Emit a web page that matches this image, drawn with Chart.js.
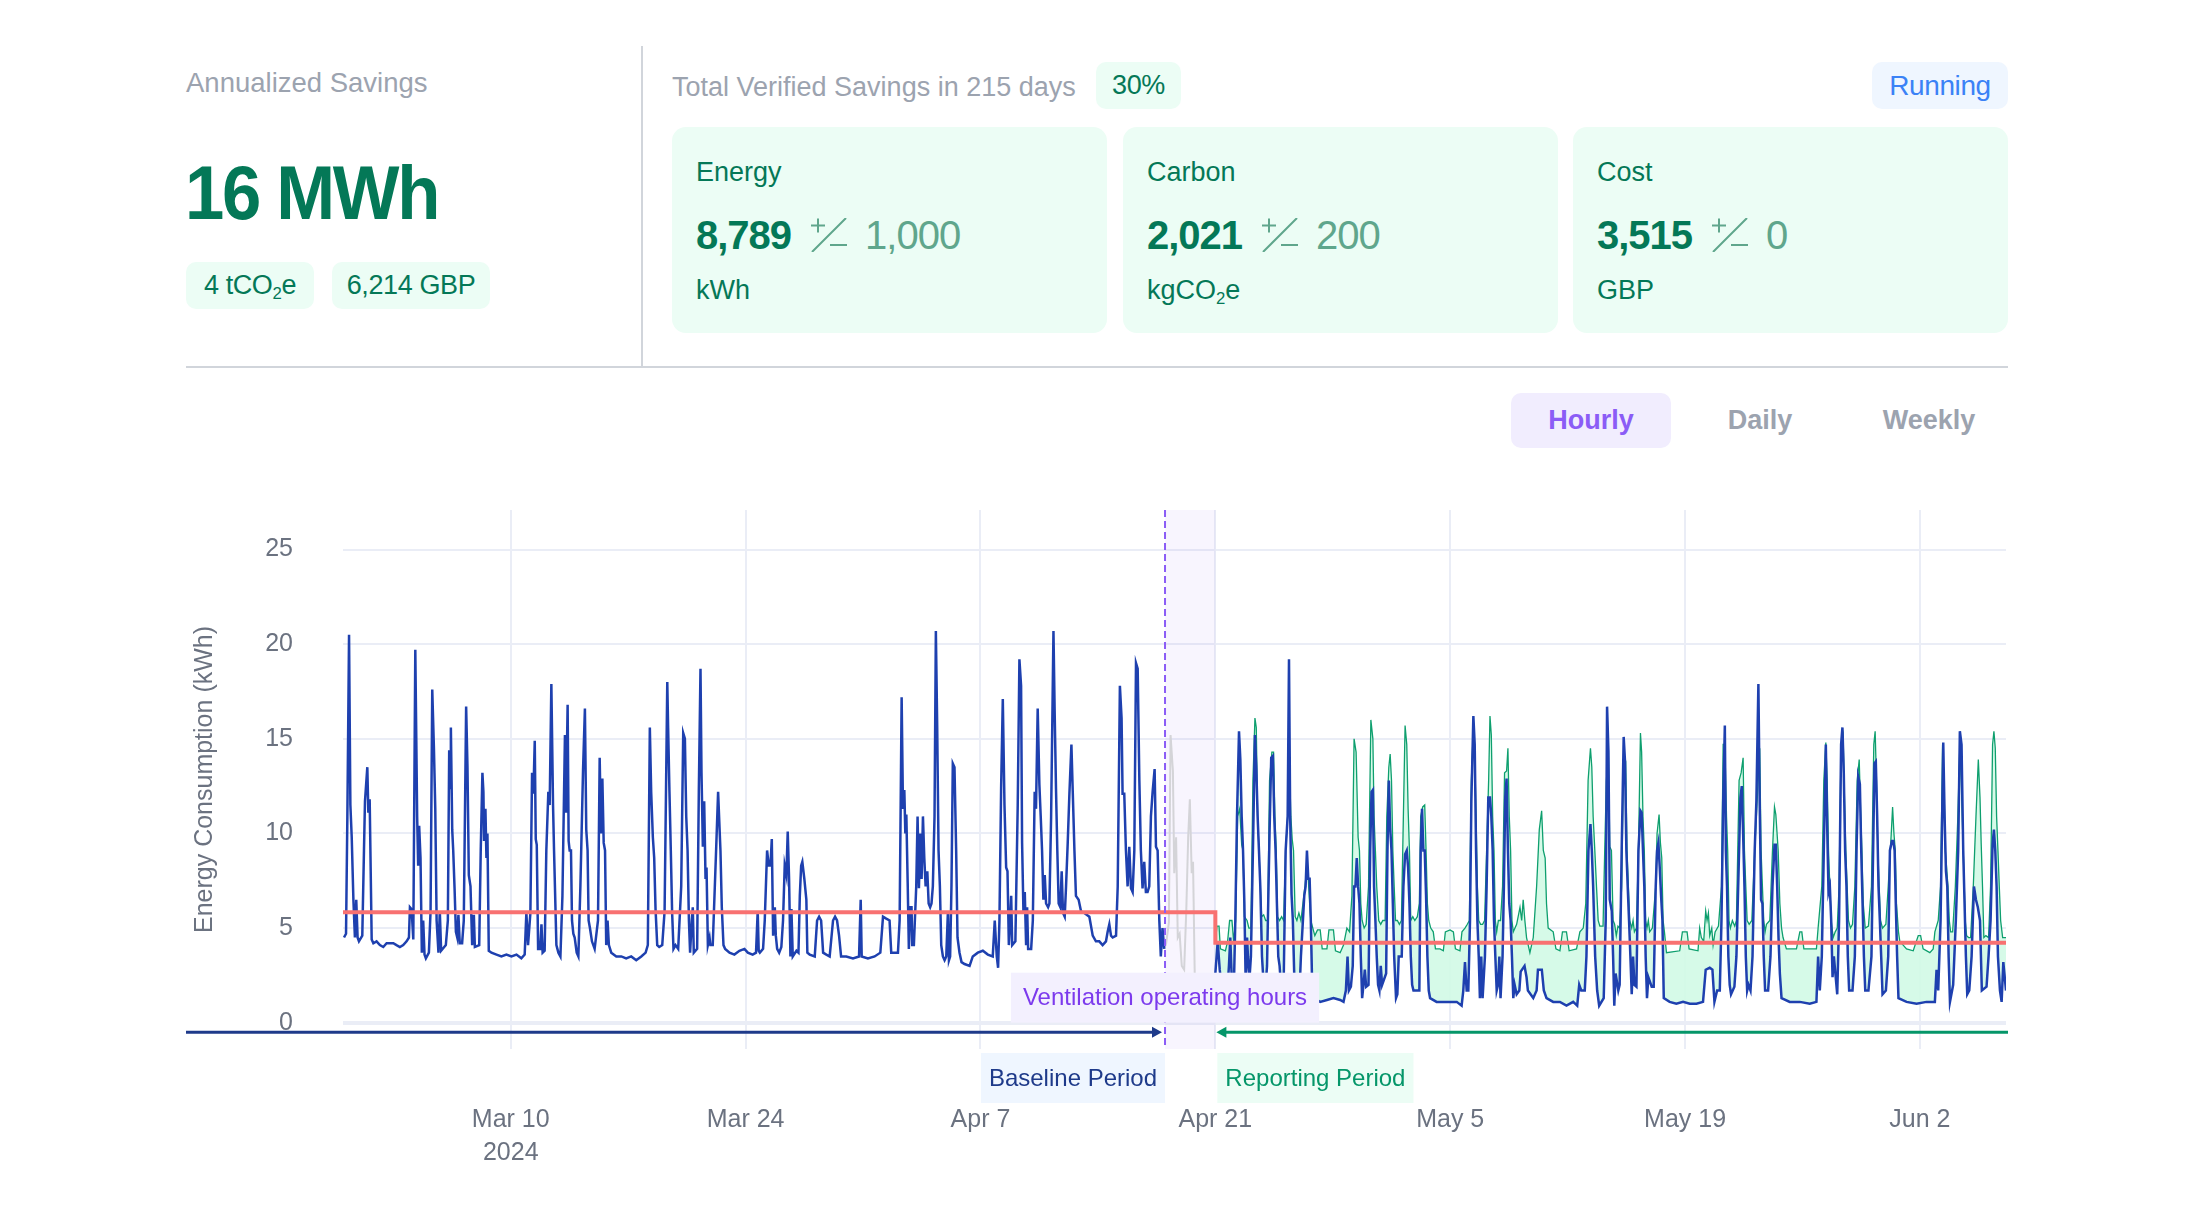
<!DOCTYPE html>
<html>
<head>
<meta charset="utf-8">
<title>Savings overview</title>
<script src="https://cdn.jsdelivr.net/npm/chart.js@4.4.1/dist/chart.umd.min.js"></script>
<style>
  html, body { margin: 0; padding: 0; background: #fff; }
  body { width: 2194px; height: 1220px; position: relative; overflow: hidden;
         font-family: 'Liberation Sans', Arial, sans-serif; }
  .abs { position: absolute; white-space: nowrap; }
  .muted { color: #9ca3af; font-size: 27px; line-height: 32px; }
  .green { color: #047857; }
  .pill { position: absolute; display: flex; align-items: center; justify-content: center;
          border-radius: 10px; font-size: 27px; letter-spacing: -0.4px; white-space: nowrap; }
  .mint { background: #ecfdf5; color: #047857; }
  sub { font-size: 0.62em; vertical-align: -0.32em; line-height: 0; }
  .card { position: absolute; top: 127px; width: 435px; height: 206px; border-radius: 14px; background: #ecfdf5; }
  .card .lbl { position: absolute; left: 24px; top: 29px; font-size: 27px; line-height: 32px; color: #047857; }
  .card .row { position: absolute; left: 24px; top: 84px; height: 48px; display: flex; align-items: center; }
  .card .row b { font-size: 40px; letter-spacing: -1px; color: #047857; }
  .card .row .err { font-size: 40px; letter-spacing: -1px; color: #5fa68c; }
  .card .row svg { margin: 0 18px 0 20px; }
  .card .unit { position: absolute; left: 24px; top: 147px; font-size: 27px; line-height: 32px; color: #047857; }
  .tab { position: absolute; top: 404px; width: 140px; text-align: center; font-size: 27px; line-height: 32px;
         font-weight: 700; color: #9ca3af; }
  #chartBox { position: absolute; left: 186px; top: 490px; }
</style>
</head>
<body>

<div class="abs muted" style="left:186px; top:67px; font-size:27.5px;">Annualized Savings</div>
<div class="abs green" style="left:185px; top:150px; font-size:76px; line-height:86px; font-weight:700; letter-spacing:-2.5px; transform:scaleX(0.93); transform-origin:left center;">16 MWh</div>
<div class="pill mint" style="left:186px; top:262px; width:128px; height:47px;"><span>4 tCO<sub>2</sub>e</span></div>
<div class="pill mint" style="left:332px; top:262px; width:158px; height:47px;"><span>6,214 GBP</span></div>

<div class="abs" style="left:641px; top:46px; width:2px; height:321px; background:#d1d5db;"></div>
<div class="abs" style="left:186px; top:366px; width:1822px; height:2px; background:#d1d5db;"></div>

<div class="abs muted" style="left:672px; top:71px;">Total Verified Savings in 215 days</div>
<div class="pill mint" style="left:1096px; top:62px; width:85px; height:47px;">30%</div>
<div class="pill" style="left:1872px; top:62px; width:136px; height:47px; background:#eff6ff; color:#3b82f6; font-size:28px;">Running</div>

<div class="card" style="left:672px;">
  <div class="lbl">Energy</div>
  <div class="row"><b>8,789</b><svg width="36" height="34" viewBox="0 0 36 34"><path d="M0 7.5h14M7 0.5v14M1 34L35 0M19 27h17" stroke="#5fa68c" stroke-width="2" fill="none"/></svg><span class="err">1,000</span></div>
  <div class="unit">kWh</div>
</div>
<div class="card" style="left:1123px;">
  <div class="lbl">Carbon</div>
  <div class="row"><b>2,021</b><svg width="36" height="34" viewBox="0 0 36 34"><path d="M0 7.5h14M7 0.5v14M1 34L35 0M19 27h17" stroke="#5fa68c" stroke-width="2" fill="none"/></svg><span class="err">200</span></div>
  <div class="unit">kgCO<sub>2</sub>e</div>
</div>
<div class="card" style="left:1573px;">
  <div class="lbl">Cost</div>
  <div class="row"><b>3,515</b><svg width="36" height="34" viewBox="0 0 36 34"><path d="M0 7.5h14M7 0.5v14M1 34L35 0M19 27h17" stroke="#5fa68c" stroke-width="2" fill="none"/></svg><span class="err">0</span></div>
  <div class="unit">GBP</div>
</div>

<div class="abs" style="left:1511px; top:393px; width:160px; height:55px; border-radius:10px; background:#f1edfe;"></div>
<div class="tab" style="left:1521px; color:#8b5cf6;">Hourly</div>
<div class="tab" style="left:1690px;">Daily</div>
<div class="tab" style="left:1859px;">Weekly</div>

<div id="chartBox"><canvas id="savingsChart" width="1822" height="700"></canvas></div>

<script>
// days counted from 29 Feb 2024 00:00, values in kWh
const xTickDays = [10, 24, 38, 52, 66, 80, 94];
const xTickLabels = [['Mar 10', '2024'], 'Mar 24', 'Apr 7', 'Apr 21', 'May 5', 'May 19', 'Jun 2'];
const yTickValues = [0, 5, 10, 15, 20, 25];
const interventionDay = 49; // Apr 18
const reportingDay = 52;    // Apr 21
const lastDay = 99.13;

const baselineMetered = [
  [0.06,4.5],[0.18,4.7],[0.26,10.9],[0.36,20.5],[0.44,11.5],[0.52,9.8],[0.62,6.5],[0.71,4.5],[0.79,6.5],[0.87,4.5],[0.95,4.3],[1.15,4.6],[1.25,9.1],[1.31,11.7],[1.45,13.5],[1.51,11.1],[1.59,11.8],[1.71,4.4],
  [1.81,4.2],[2.0,4.3],[2.2,4.1],[2.4,4.0],[2.6,4.2],[2.8,4.2],[3.0,4.2],[3.19,4.1],[3.39,4.0],[3.59,4.1],[3.79,4.3],[3.93,4.5],[3.99,6.1],[4.09,6.0],[4.19,4.4],
  [4.31,19.7],[4.42,10.9],[4.48,8.3],[4.54,10.4],[4.62,8.7],[4.70,3.7],[4.78,5.4],[4.86,3.6],[4.94,3.4],[5.12,3.7],[5.22,5.9],[5.32,17.6],[5.42,14.5],[5.50,11.3],[5.58,5.4],[5.69,3.7],[5.77,5.9],[5.85,3.8],
  [6.13,4.1],[6.25,5.4],[6.33,14.4],[6.39,12.4],[6.43,15.6],[6.51,10.2],[6.57,9.1],[6.65,7.1],[6.73,4.8],[6.81,4.5],[6.88,5.7],[6.96,4.2],[7.10,4.2],[7.20,5.4],[7.34,16.7],[7.42,13.5],[7.50,7.8],[7.60,7.2],[7.70,4.1],[7.80,5.7],[7.86,4.0],
  [8.12,4.1],[8.21,9.1],[8.31,13.2],[8.37,12.2],[8.41,9.6],[8.49,11.3],[8.55,8.7],[8.61,10.0],[8.69,3.8],
  [8.85,3.7],[9.15,3.6],[9.44,3.5],[9.74,3.6],[10.04,3.5],[10.34,3.6],[10.63,3.4],[10.83,3.6],
  [10.93,5.8],[11.03,4.1],[11.17,5.8],[11.27,13.2],[11.35,12.1],[11.43,14.9],[11.49,9.7],[11.55,9.4],[11.63,3.9],[11.75,3.9],[11.83,5.2],[11.90,3.7],[12.02,3.8],
  [12.12,9.1],[12.24,12.2],[12.32,11.5],[12.42,17.9],[12.52,11.5],[12.58,9.1],[12.72,4.1],[12.84,3.7],[12.96,3.5],[13.08,6.7],[13.23,15.2],[13.29,11.1],[13.39,16.8],[13.45,9.6],[13.51,9.1],[13.59,9.1],[13.65,5.4],[13.73,4.7],[13.81,4.5],[13.93,3.7],
  [14.03,3.5],[14.15,7.2],[14.31,13.4],[14.42,16.6],[14.50,10.2],[14.58,9.1],[14.64,5.4],[14.72,5.0],[14.84,4.3],[15.0,3.9],[15.20,5.4],[15.30,14.0],[15.38,10.0],[15.46,12.9],[15.54,9.5],[15.62,9.1],[15.69,4.1],[15.77,5.4],[15.85,4.1],
  [15.99,3.7],[16.29,3.5],[16.59,3.5],[16.88,3.4],[17.18,3.5],[17.48,3.3],[17.78,3.5],[18.04,3.7],
  [18.17,4.1],[18.29,15.6],[18.37,12.2],[18.47,9.8],[18.55,8.7],[18.63,6.0],[18.73,4.1],[18.85,4.0],[19.03,4.1],[19.17,5.9],[19.33,18.0],[19.38,15.6],[19.46,12.2],[19.54,9.1],[19.62,5.8],[19.70,3.9],[19.82,4.1],[19.98,3.9],
  [20.16,7.2],[20.28,15.3],[20.38,15.0],[20.46,10.9],[20.54,9.1],[20.62,5.4],[20.69,3.7],[20.79,5.4],[20.85,6.1],[20.91,3.7],[21.11,3.9],[21.21,12.2],[21.31,18.7],[21.37,13.2],[21.45,9.3],[21.53,11.7],[21.61,7.6],[21.67,8.2],[21.75,4.1],[21.85,4.5],[21.90,4.1],
  [22.04,4.1],[22.24,9.1],[22.36,12.2],[22.44,10.4],[22.50,9.1],[22.58,6.1],[22.68,4.1],[22.78,3.9],
  [23.04,3.7],[23.33,3.6],[23.63,3.8],[23.93,3.9],[24.13,3.7],[24.42,3.6],[24.62,3.7],[24.72,5.9],[24.78,3.8],
  [24.85,3.7],[25.04,3.9],[25.14,5.4],[25.28,9.1],[25.38,8.3],[25.48,8.3],[25.56,9.7],[25.64,4.6],[25.74,6.1],[25.80,4.6],[25.88,3.9],[26.0,3.7],[26.13,4.0],
  [26.23,5.4],[26.33,8.3],[26.43,7.8],[26.51,10.1],[26.59,7.6],[26.67,3.5],[26.73,6.0],[26.81,3.5],[27.03,3.8],[27.15,3.7],[27.23,6.7],[27.31,8.3],[27.38,8.5],[27.50,7.6],[27.62,6.5],[27.68,3.7],[27.82,3.6],
  [28.12,3.5],[28.26,5.4],[28.38,5.6],[28.50,5.4],[28.62,3.7],[28.81,3.6],[29.01,3.5],[29.21,5.4],[29.33,5.6],[29.45,5.4],[29.57,4.6],[29.69,3.5],[30.0,3.5],[30.4,3.4],[30.76,3.5],[30.86,6.5],[30.92,3.5],[31.29,3.4],[31.69,3.5],
  [32.03,3.7],[32.19,5.6],[32.38,5.5],[32.58,5.4],[32.68,3.7],[33.08,3.7],
  [33.18,5.4],[33.30,17.2],[33.38,11.3],[33.46,12.3],[33.52,10.0],[33.58,11.0],[33.66,7.4],[33.73,3.9],[33.81,6.1],[33.89,6.1],[33.93,4.1],[34.03,4.1],
  [34.17,7.2],[34.25,10.9],[34.33,7.1],[34.41,10.0],[34.49,7.6],[34.57,10.9],[34.65,8.7],[34.73,7.2],[34.83,8.0],[34.91,6.3],[35.00,6.1],[35.08,6.3],[35.16,7.2],[35.26,10.9],[35.34,20.7],[35.42,15.6],[35.50,9.1],[35.58,7.2],[35.66,4.1],[35.76,3.5],[35.86,3.3],[35.96,3.5],
  [36.06,5.9],[36.12,3.3],[36.19,3.5],[36.27,7.2],[36.35,13.7],[36.45,13.5],[36.55,9.1],[36.63,4.5],[36.75,3.7],[36.87,3.2],[37.05,3.1],[37.35,3.0],[37.54,3.5],[37.84,3.7],[38.14,3.8],[38.44,3.6],[38.73,3.5],[38.85,5.4],[38.97,3.5],
  [39.05,2.9],[39.13,5.4],[39.23,12.4],[39.33,17.1],[39.43,11.5],[39.53,8.2],[39.61,8.0],[39.69,4.1],[39.77,5.4],[39.83,6.7],[39.89,4.1],[40.08,4.3],
  [40.22,11.5],[40.32,19.2],[40.42,17.8],[40.48,9.5],[40.56,5.9],[40.64,6.9],[40.72,4.1],[40.78,6.1],[40.84,3.9],[41.02,3.9],
  [41.12,5.4],[41.23,12.2],[41.31,11.3],[41.41,16.6],[41.51,12.6],[41.59,10.9],[41.67,9.1],[41.75,6.5],[41.83,7.8],[41.91,6.3],[42.03,6.1],[42.11,6.3],
  [42.21,10.9],[42.35,20.7],[42.42,16.5],[42.50,12.4],[42.58,9.1],[42.66,6.3],[42.76,6.1],[42.84,8.0],[42.92,5.8],[43.02,5.6],
  [43.10,7.2],[43.20,9.5],[43.30,12.1],[43.42,14.7],[43.50,12.2],[43.60,9.1],[43.69,6.7],[43.85,6.5],[43.99,5.9],[44.19,5.8],[44.49,5.6],[44.69,4.6],[44.88,4.3],[45.08,4.3],[45.28,4.1],[45.48,4.3],[45.58,4.8],[45.68,5.2],[45.78,4.6],[45.88,4.5],[46.08,4.6],
  [46.18,7.2],[46.31,17.8],[46.41,16.1],[46.47,12.1],[46.57,12.1],[46.67,9.1],[46.77,7.2],[46.87,9.3],[46.97,7.1],[47.07,6.9],
  [47.17,9.1],[47.27,19.0],[47.37,18.7],[47.47,12.8],[47.56,9.1],[47.66,7.1],[47.76,8.5],[47.86,6.9],[47.96,6.9],
  [48.06,7.2],[48.16,10.9],[48.26,12.2],[48.38,13.4],[48.46,9.3],[48.56,9.1],[48.66,5.4],[48.75,3.5],[48.85,5.0],[48.95,3.9]
];

const transitionMetered = [
  [48.95,3.9],[49.07,4.2],[49.23,5.3],[49.33,15.2],[49.47,13.3],[49.55,7.9],[49.66,9.8],[49.76,4.5],[49.87,4.7],[50.0,3.0],[50.14,2.8],
  [50.27,6.0],[50.38,9.8],[50.48,11.8],[50.59,7.9],[50.67,8.5],[50.77,2.6],[51.0,2.4],[51.4,2.5],[51.8,2.4],[52.0,2.6]
];

const reportingMetered = [
  [52.0,2.6],[52.14,4.3],[52.26,2.8],[52.40,1.7],[52.69,1.3],[52.81,3.0],[52.89,4.5],[52.99,2.0],[53.09,1.3],
  [53.19,5.4],[53.29,10.9],[53.41,15.4],[53.49,13.9],[53.57,10.9],[53.65,9.1],[53.73,6.3],[53.81,2.0],[53.89,4.5],[53.96,3.2],[54.04,2.4],[54.12,3.5],
  [54.24,9.1],[54.36,15.2],[54.44,13.5],[54.52,10.9],[54.60,9.1],[54.68,7.2],[54.78,3.5],[54.88,2.0],[54.98,1.7],[55.08,3.0],
  [55.23,10.0],[55.33,14.0],[55.43,14.1],[55.51,10.9],[55.59,9.1],[55.67,6.3],[55.75,3.5],[55.83,3.0],[55.93,1.7],[56.07,2.0],
  [56.19,9.1],[56.31,10.9],[56.39,19.2],[56.46,10.9],[56.54,6.8],[56.62,5.4],[56.70,2.6],[56.78,1.7],[56.86,1.3],[57.02,1.7],[57.10,3.5],
  [57.22,5.4],[57.30,6.7],[57.38,7.2],[57.46,9.1],[57.54,7.6],[57.62,7.6],[57.69,5.4],[57.77,2.0],[57.85,1.3],
  [58.25,1.1],[58.65,1.2],[59.04,1.3],[59.44,1.2],[59.64,1.1],[59.78,1.7],[59.88,3.5],[59.96,1.7],[60.08,1.9],[60.19,3.0],
  [60.27,7.2],[60.35,7.2],[60.43,8.7],[60.51,7.2],[60.59,6.3],[60.67,3.5],[60.75,1.3],[60.83,2.0],[60.91,2.8],[60.99,1.9],[61.13,2.0],
  [61.23,9.1],[61.31,12.2],[61.39,12.3],[61.46,7.2],[61.54,5.4],[61.62,3.5],[61.70,2.0],[61.78,1.7],[61.86,3.0],[61.94,2.0],[62.18,2.6],
  [62.26,9.1],[62.34,12.8],[62.42,10.3],[62.50,9.1],[62.58,6.3],[62.66,3.5],[62.77,1.3],[62.85,1.5],[62.93,3.5],[63.11,3.5],
  [63.21,7.2],[63.31,8.9],[63.41,9.1],[63.49,8.2],[63.57,6.3],[63.65,3.5],[63.73,2.0],[63.81,1.7],[64.16,1.7],
  [64.24,9.1],[64.32,11.3],[64.40,9.1],[64.48,9.1],[64.56,6.7],[64.64,3.5],[64.72,1.7],[64.80,1.3],
  [65.19,1.1],[65.59,1.1],[65.99,1.1],[66.39,1.1],[66.68,0.9],[66.78,1.7],[66.88,3.2],[66.98,1.7],[67.08,1.7],
  [67.18,5.4],[67.26,11.7],[67.38,16.2],[67.46,14.7],[67.54,9.1],[67.62,5.4],[67.70,3.5],[67.77,1.3],[67.85,3.5],[67.93,1.3],[68.07,3.5],
  [68.17,7.2],[68.27,11.9],[68.37,11.9],[68.45,10.9],[68.53,9.1],[68.61,5.4],[68.69,3.5],[68.77,1.7],[68.85,2.0],[68.93,3.5],[69.00,1.3],[69.12,3.5],
  [69.20,7.2],[69.28,11.9],[69.36,12.9],[69.44,9.1],[69.52,6.3],[69.60,5.4],[69.68,3.5],[69.76,1.3],[69.84,2.0],[69.96,1.5],
  [70.12,1.7],[70.20,2.7],[70.43,3.0],[70.55,2.4],[70.63,1.7],[70.95,1.3],[71.15,1.7],[71.23,2.8],[71.46,2.8],[71.58,1.7],[71.74,1.3],
  [72.14,1.1],[72.54,1.1],[72.93,0.9],[73.33,1.1],[73.57,0.9],[73.69,2.0],[73.81,1.7],[74.02,1.7],
  [74.12,3.5],[74.24,9.1],[74.36,10.5],[74.44,9.1],[74.52,7.2],[74.64,3.5],[74.76,1.7],[74.88,0.9],
  [75.15,1.3],[75.27,5.4],[75.35,16.7],[75.43,14.4],[75.51,6.5],[75.63,5.9],[75.71,3.5],[75.78,0.9],[75.86,2.6],[76.02,1.7],[76.10,2.0],
  [76.22,9.1],[76.34,15.1],[76.42,13.8],[76.50,9.1],[76.58,7.2],[76.66,5.4],[76.74,3.5],[76.82,1.5],[76.90,3.5],[76.98,2.0],[77.10,1.9],
  [77.22,9.1],[77.34,11.2],[77.41,11.1],[77.49,9.1],[77.57,7.2],[77.65,3.5],[77.73,1.3],[77.81,2.4],[78.01,1.9],[78.13,1.9],
  [78.25,7.2],[78.33,9.1],[78.41,9.5],[78.49,8.2],[78.57,6.7],[78.65,5.4],[78.73,1.3],
  [79.08,1.1],[79.48,1.0],[79.88,1.1],[80.28,1.0],[80.68,1.0],[81.07,1.1],[81.23,2.8],[81.47,2.9],[81.63,2.8],[81.75,1.1],[81.91,1.7],[82.07,1.7],
  [82.17,5.4],[82.27,11.6],[82.37,15.7],[82.43,9.1],[82.50,7.2],[82.58,3.5],[82.66,2.0],[82.74,1.5],[82.94,1.9],
  [83.06,3.5],[83.22,9.1],[83.30,11.9],[83.38,12.5],[83.46,10.0],[83.54,7.2],[83.62,3.5],[83.70,1.7],[83.78,2.0],[83.90,1.7],
  [84.02,3.5],[84.15,9.1],[84.25,11.7],[84.37,17.9],[84.45,11.5],[84.53,6.5],[84.61,6.3],[84.69,3.5],[84.77,1.7],[84.95,1.7],
  [85.09,3.5],[85.21,7.2],[85.33,9.4],[85.41,9.4],[85.49,7.2],[85.57,4.5],[85.65,2.6],[85.75,1.3],
  [86.24,1.1],[86.84,1.1],[87.43,1.0],[87.83,1.1],[87.93,3.5],[88.03,1.7],
  [88.15,3.5],[88.27,9.1],[88.39,14.7],[88.47,10.4],[88.55,6.9],[88.63,7.2],[88.71,5.4],[88.79,2.4],[88.87,3.5],[89.07,1.5],
  [89.18,5.4],[89.30,14.7],[89.38,15.6],[89.46,13.2],[89.54,9.1],[89.62,7.2],[89.70,3.5],[89.78,1.7],[89.98,1.7],
  [90.12,3.5],[90.22,9.1],[90.32,13.0],[90.42,12.6],[90.50,9.1],[90.58,6.3],[90.66,3.5],[90.74,1.7],[90.93,1.7],
  [91.11,3.5],[91.21,9.1],[91.29,13.7],[91.37,13.8],[91.45,10.9],[91.53,7.2],[91.61,5.4],[91.69,3.5],[91.77,1.5],[91.97,1.7],
  [92.11,3.5],[92.21,9.1],[92.33,9.6],[92.41,9.6],[92.49,9.1],[92.56,6.3],[92.64,3.5],[92.72,1.3],
  [93.2,1.1],[93.8,1.0],[94.39,1.1],[94.89,1.1],[94.99,2.8],[95.09,1.7],
  [95.23,5.4],[95.39,14.8],[95.47,10.9],[95.55,8.0],[95.63,7.2],[95.71,3.5],[95.79,1.1],[95.98,2.0],
  [96.14,5.4],[96.28,9.1],[96.38,15.4],[96.48,14.7],[96.58,9.1],[96.66,6.3],[96.74,3.5],[96.82,1.5],[96.94,1.7],
  [97.08,3.5],[97.22,7.2],[97.34,6.5],[97.45,6.1],[97.58,5.4],[97.69,1.7],[97.97,1.9],
  [98.09,3.5],[98.21,5.4],[98.33,9.4],[98.41,10.2],[98.49,9.1],[98.57,7.2],[98.65,3.5],[98.77,1.7],[98.87,1.1],[98.97,3.2],[99.13,1.7]
];

const adjustedBaseline = [
  [52.0,4.3],[52.10,5.1],[52.22,5.1],[52.30,3.9],[52.60,3.8],[52.73,4.3],[52.85,5.4],[52.99,5.4],[53.09,4.3],
  [53.21,5.4],[53.33,10.9],[53.45,11.3],[53.57,9.4],[53.65,9.1],[53.73,5.6],[53.89,5.4],[54.00,5.0],[54.12,5.0],
  [54.24,12.8],[54.36,16.1],[54.44,15.6],[54.52,10.9],[54.60,9.1],[54.68,7.2],[54.76,5.6],[54.88,5.7],[55.00,5.4],[55.12,5.4],
  [55.23,12.8],[55.37,14.3],[55.47,14.3],[55.55,10.9],[55.63,9.1],[55.71,5.6],[55.83,5.4],[55.95,5.6],[56.07,5.4],
  [56.19,9.1],[56.31,10.9],[56.39,14.5],[56.50,10.9],[56.58,9.7],[56.66,9.1],[56.76,5.6],[56.86,5.4],[56.98,5.8],[57.10,5.4],
  [57.22,6.3],[57.34,7.2],[57.46,8.2],[57.54,7.6],[57.62,6.3],[57.69,5.4],[57.81,5.0],[57.93,4.6],
  [58.09,4.9],[58.25,4.9],[58.37,3.9],[58.65,3.9],[58.77,4.9],[59.04,4.9],[59.16,3.8],[59.44,3.7],[59.64,4.1],[59.84,5.0],[60.0,4.8],
  [60.14,6.7],[60.27,15.0],[60.39,14.3],[60.51,9.8],[60.59,9.1],[60.67,6.3],[60.75,5.4],[60.87,5.0],[60.99,5.2],
  [61.13,7.2],[61.27,16.0],[61.39,15.0],[61.46,10.9],[61.54,9.1],[61.62,7.2],[61.74,5.4],[61.86,5.2],[61.98,5.4],[62.12,5.4],
  [62.22,10.9],[62.34,13.5],[62.42,14.2],[62.50,12.8],[62.58,9.1],[62.66,7.2],[62.74,5.4],[62.85,5.4],[62.97,5.2],[63.09,5.4],
  [63.17,9.1],[63.31,15.7],[63.41,14.7],[63.49,11.3],[63.57,9.1],[63.65,5.4],[63.77,5.6],[63.89,5.4],[64.04,5.6],
  [64.16,6.3],[64.24,10.9],[64.36,11.4],[64.48,11.5],[64.56,9.1],[64.64,6.3],[64.72,5.4],[64.84,5.0],[64.99,4.8],
  [65.12,3.9],[65.39,3.9],[65.59,3.8],[65.71,4.8],[65.99,4.9],[66.19,4.8],[66.31,3.9],[66.58,3.8],[66.70,4.8],[66.88,5.0],[67.02,5.2],
  [67.14,5.4],[67.26,12.8],[67.38,15.6],[67.46,14.3],[67.54,10.9],[67.62,7.2],[67.70,5.4],[67.81,5.2],[67.93,5.2],[68.05,5.4],
  [68.17,9.1],[68.29,12.8],[68.37,16.2],[68.45,15.2],[68.53,10.9],[68.61,9.1],[68.69,5.4],[68.77,4.8],[68.87,5.4],[69.00,5.4],
  [69.12,7.2],[69.24,13.2],[69.36,13.3],[69.44,14.5],[69.52,10.9],[69.60,9.1],[69.68,5.4],[69.76,4.8],[69.96,5.2],
  [70.16,6.1],[70.26,5.4],[70.35,6.5],[70.45,5.4],[70.55,4.5],[70.75,3.7],[70.95,4.5],
  [71.15,7.2],[71.31,10.2],[71.45,11.2],[71.55,9.1],[71.66,8.7],[71.74,6.3],[71.84,5.0],
  [72.14,4.8],[72.30,3.9],[72.54,3.8],[72.69,4.8],[72.93,4.8],[73.09,3.8],[73.53,3.9],[73.73,4.8],[73.93,5.0],
  [74.08,6.3],[74.22,12.8],[74.36,14.5],[74.44,13.5],[74.52,10.9],[74.62,9.1],[74.72,7.2],[74.82,5.4],[74.92,5.1],
  [75.11,5.1],[75.21,9.1],[75.31,12.8],[75.43,14.4],[75.51,9.3],[75.61,9.1],[75.71,5.4],[75.80,5.2],[75.90,4.6],[76.0,5.1],[76.10,5.0],
  [76.22,7.2],[76.34,14.3],[76.46,13.8],[76.54,9.1],[76.62,7.2],[76.70,5.4],[76.82,5.0],[76.90,5.4],[76.98,4.8],[77.10,5.0],
  [77.22,9.1],[77.34,15.3],[77.41,14.3],[77.49,10.9],[77.57,9.1],[77.65,5.4],[77.73,5.0],[77.81,5.4],[77.89,4.8],[78.05,5.0],
  [78.25,7.2],[78.33,10.0],[78.45,11.0],[78.53,9.5],[78.61,8.7],[78.69,5.4],[78.77,4.8],
  [78.89,3.7],[79.68,3.8],[79.84,4.8],[80.12,4.8],[80.24,3.9],[80.77,3.8],[80.87,5.0],[80.97,4.5],[81.11,4.3],
  [81.23,5.9],[81.31,5.4],[81.39,5.8],[81.47,4.6],[81.59,5.0],[81.67,4.1],[81.79,4.8],[81.99,5.1],
  [82.17,7.2],[82.27,14.7],[82.37,14.7],[82.47,10.9],[82.54,9.1],[82.62,5.4],[82.70,5.0],[82.82,5.4],[82.96,5.1],[83.06,5.4],
  [83.22,12.8],[83.34,13.2],[83.46,14.0],[83.54,9.1],[83.62,7.2],[83.70,5.4],[83.82,5.2],[83.98,5.4],
  [84.15,9.1],[84.25,10.9],[84.45,14.5],[84.53,9.1],[84.61,7.2],[84.69,5.4],[84.77,4.8],[84.85,5.2],[85.05,5.4],
  [85.21,9.1],[85.33,11.4],[85.41,11.0],[85.55,9.1],[85.65,6.3],[85.75,5.0],[85.84,4.5],
  [86.04,3.9],[86.64,3.9],[86.84,4.8],[86.96,4.8],[87.08,3.9],[87.83,3.9],[87.93,5.0],
  [88.15,7.2],[88.27,12.8],[88.39,14.8],[88.47,12.8],[88.55,9.1],[88.63,7.2],[88.71,5.4],[88.83,4.5],[88.95,4.8],[89.07,5.0],
  [89.18,7.2],[89.30,14.7],[89.42,15.2],[89.50,11.9],[89.58,9.1],[89.66,7.2],[89.74,5.4],[89.86,5.0],[89.98,5.2],
  [90.12,7.2],[90.26,12.8],[90.38,13.9],[90.46,11.3],[90.54,9.1],[90.62,6.3],[90.74,5.0],[90.93,5.1],
  [91.11,7.2],[91.25,14.7],[91.33,15.4],[91.41,12.8],[91.49,9.1],[91.57,7.2],[91.65,5.4],[91.77,5.0],[91.97,5.2],
  [92.11,7.2],[92.29,10.0],[92.37,11.4],[92.45,10.0],[92.53,9.1],[92.60,6.3],[92.72,4.8],[92.80,4.3],
  [93.20,3.9],[93.60,3.8],[93.90,4.6],[94.04,4.6],[94.19,3.9],[94.59,3.7],[94.79,3.9],[94.89,4.8],[95.09,5.4],
  [95.23,7.2],[95.35,14.7],[95.43,12.8],[95.51,9.1],[95.59,8.2],[95.67,7.2],[95.75,5.4],[95.83,4.8],[95.95,4.8],
  [96.11,7.2],[96.26,10.9],[96.38,14.7],[96.46,12.8],[96.58,9.1],[96.70,5.4],[96.78,4.6],[96.90,4.5],[97.02,4.5],
  [97.18,7.2],[97.34,10.9],[97.48,13.9],[97.58,11.9],[97.65,9.5],[97.73,7.2],[97.81,4.5],[97.93,4.6],[98.09,4.5],
  [98.21,7.2],[98.33,14.7],[98.41,15.4],[98.49,14.5],[98.57,10.9],[98.65,9.1],[98.73,7.2],[98.81,5.4],[98.93,4.5],[99.13,4.5]
];

const baselineModel = [[0, 5.84], [52, 5.84], [52, 4.23], [99.13, 4.23]];

const FONT = "'Liberation Sans', Arial, sans-serif";
Chart.defaults.font.family = FONT;

const toXY = arr => arr.map(p => ({ x: p[0], y: p[1] }));

function arrowHead(ctx, tipX, y, dir, color) {
  ctx.fillStyle = color;
  ctx.beginPath();
  ctx.moveTo(tipX, y);
  ctx.lineTo(tipX - dir * 10, y - 5.5);
  ctx.lineTo(tipX - dir * 10, y + 5.5);
  ctx.closePath();
  ctx.fill();
}

function tag(ctx, text, x, top, h, pad, align, bg, fg) {
  const w = ctx.measureText(text).width + pad * 2;
  const left = align === 'right' ? x - w : (align === 'center' ? x - w / 2 : x);
  ctx.fillStyle = bg;
  ctx.fillRect(left, top, w, h);
  ctx.fillStyle = fg;
  ctx.textAlign = 'center';
  ctx.textBaseline = 'middle';
  ctx.fillText(text, left + w / 2, top + h / 2 + 1);
}

const periodMarks = {
  id: 'periodMarks',
  beforeDatasetsDraw(chart) {
    const { ctx, chartArea: a, scales: { x } } = chart;
    const x0 = x.getPixelForValue(interventionDay);
    const x1 = x.getPixelForValue(reportingDay);
    ctx.save();
    ctx.fillStyle = 'rgba(139,92,246,0.06)';
    ctx.fillRect(x0, a.top, x1 - x0, a.bottom - a.top);
    ctx.restore();
  },
  afterDatasetsDraw(chart) {
    const { ctx, chartArea: a, scales: { x, y } } = chart;
    const xi = x.getPixelForValue(interventionDay);
    const xr = x.getPixelForValue(reportingDay);
    const yArrow = y.getPixelForValue(-0.5);
    ctx.save();

    // intervention date
    ctx.strokeStyle = '#8b5cf6';
    ctx.lineWidth = 2;
    ctx.setLineDash([7, 4]);
    ctx.beginPath();
    ctx.moveTo(xi, a.top);
    ctx.lineTo(xi, a.bottom);
    ctx.stroke();
    ctx.setLineDash([]);

    // period arrows
    ctx.lineWidth = 3;
    ctx.strokeStyle = '#1e3a8a';
    ctx.beginPath();
    ctx.moveTo(0, yArrow);
    ctx.lineTo(xi - 12, yArrow);
    ctx.stroke();
    arrowHead(ctx, xi - 3, yArrow, 1, '#1e3a8a');

    ctx.strokeStyle = '#059669';
    ctx.beginPath();
    ctx.moveTo(xr + 9, yArrow);
    ctx.lineTo(a.right + 2, yArrow);
    ctx.stroke();
    arrowHead(ctx, xr + 1, yArrow, -1, '#059669');

    // labels
    ctx.font = '24px ' + FONT;
    tag(ctx, 'Ventilation operating hours', xi, y.getPixelForValue(0) - 50, 50, 12, 'center', '#f3f0fe', '#7c3aed');
    tag(ctx, 'Baseline Period', xi, a.bottom + 4, 50, 8, 'right', '#eff6ff', '#1e3a8a');
    tag(ctx, 'Reporting Period', xr + 2, a.bottom + 4, 50, 8, 'left', '#ecfdf5', '#059669');
    ctx.restore();
  }
};

const gridColor = '#eaedf6';

new Chart(document.getElementById('savingsChart'), {
  type: 'line',
  data: {
    datasets: [
      { label: 'Adjusted baseline', data: toXY(adjustedBaseline), borderColor: '#0e9f6e', borderWidth: 1.3,
        pointRadius: 0, order: 3,
        fill: { target: 2, above: 'rgba(209,250,229,0.9)', below: 'rgba(209,250,229,0.9)' } },
      { label: 'Transition', data: toXY(transitionMetered), borderColor: '#d4d4d8', borderWidth: 2,
        pointRadius: 0, fill: false, order: 2 },
      { label: 'Reporting metered', data: toXY(reportingMetered), borderColor: '#1e40af', borderWidth: 2.5,
        pointRadius: 0, fill: false, order: 1 },
      { label: 'Baseline metered', data: toXY(baselineMetered), borderColor: '#1e40af', borderWidth: 2.5,
        pointRadius: 0, fill: false, order: 1 },
      { label: 'Baseline model', data: toXY(baselineModel), borderColor: '#f87171', borderWidth: 4,
        pointRadius: 0, fill: false, order: 0 }
    ]
  },
  options: {
    responsive: false,
    animation: false,
    devicePixelRatio: 1,
    layout: { padding: { top: 20, right: 2, left: 0, bottom: 0 } },
    plugins: { legend: { display: false }, tooltip: { enabled: false } },
    scales: {
      x: {
        type: 'linear', min: 0, max: lastDay,
        afterBuildTicks: s => { s.ticks = xTickDays.map(v => ({ value: v })); },
        afterFit: s => { s.height = 141; s.paddingLeft = 0; s.paddingRight = 0; },
        grid: { color: gridColor, lineWidth: 2, drawTicks: false },
        border: { display: false },
        ticks: {
          autoSkip: false, maxRotation: 0, padding: 55, color: '#6b7280',
          font: { size: 25, lineHeight: 1.32 },
          callback: v => xTickLabels[xTickDays.indexOf(v)]
        }
      },
      y: {
        min: -1.39, max: 27.09,
        afterBuildTicks: s => { s.ticks = yTickValues.map(v => ({ value: v })); },
        afterFit: s => { s.width = 157; s.paddingTop = 0; s.paddingBottom = 0; },
        grid: { color: gridColor, lineWidth: c => (c.tick && c.tick.value === 0 ? 4 : 2), drawTicks: false },
        border: { display: false },
        ticks: { padding: 50, color: '#6b7280', font: { size: 25 } },
        title: { display: true, text: 'Energy Consumption (kWh)', color: '#6b7280',
                 font: { size: 25, lineHeight: 1.2 }, padding: { top: 4, bottom: 0 } }
      }
    }
  },
  plugins: [periodMarks]
});
</script>
</body>
</html>
